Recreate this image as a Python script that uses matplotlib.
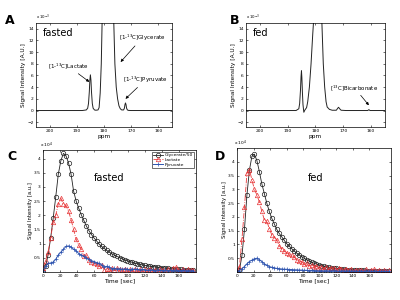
import matplotlib
matplotlib.use('Agg')
import matplotlib.pyplot as plt

# ── Spectra (ppm, signal x1e-3) ─────────────────────────────────
ppm_fasted = [205, 188, 186.5, 186.0, 185.7, 185.4, 185.2, 185.0, 184.8, 184.6,
              184.3, 184.0, 183.5, 183.0, 182.2, 181.8, 181.4, 181.0, 180.7,
              180.4, 180.0, 179.5, 179.0, 178.5, 178.0, 177.5, 177.0, 176.7,
              176.4, 176.0, 175.5, 175.0, 174.5, 174.0, 173.5, 172.8, 172.5,
              172.3, 172.1, 171.9, 171.7, 171.4, 171.0, 170.0, 155]
sig_fasted = [0, 0, 0.1, 0.4, 1.2, 3.2, 5.2, 6.1, 5.2, 3.2,
              1.2, 0.4, 0.1, 0.05, 0.1, 0.5, 3.0, 8.0, 15.0,
              30.0, 50.0, 60.0, 60.0, 58.0, 55.0, 45.0, 30.0, 22.0,
              15.0, 8.0, 4.0, 2.0, 0.8, 0.3, 0.1, 0.1, 0.4,
              1.0, 1.3, 1.0, 0.4, 0.1, 0.02, 0, 0]

ppm_fed = [205, 187, 186.0, 185.7, 185.4, 185.2, 185.05, 184.9, 184.7, 184.5,
           184.2, 183.8, 183.2, 182.8, 182.2, 181.6, 181.0, 180.6, 180.2,
           179.5, 179.0, 178.5, 178.0, 177.7, 177.2, 176.7, 176.2, 175.8,
           175.0, 174.0, 172.5, 172.0, 171.7, 171.3, 170.8, 169.0, 161.2,
           160.8, 160.4, 155]
sig_fed = [0, 0, 0.3, 1.2, 3.5, 5.8, 6.8, 5.6, 3.0, 1.0,
           -0.3, 0.1, 0.5, 1.5, 4.0, 8.0, 13.0, 16.0, 30.0,
           60.0, 60.0, 60.0, 40.0, 15.0, 8.0, 4.0, 1.5, 0.6,
           0.2, 0.05, 0.05, 0.4, 0.55, 0.3, 0.05, 0, 0,
           0.15, 0, 0]

# ── Time courses (signal x1e4) ──────────────────────────────────
t_fasted = [0, 3, 6, 9, 12, 15, 18, 21, 24, 27, 30, 33, 36, 39, 42, 45, 48,
            51, 54, 57, 60, 63, 66, 69, 72, 75, 78, 81, 84, 87, 90, 93, 96,
            99, 102, 105, 108, 111, 114, 117, 120, 123, 126, 129, 132, 135,
            138, 141, 144, 147, 150, 153, 156, 159, 162, 165, 168, 171, 174, 177]
t_fed = t_fasted + [180, 183]

gly_fasted = [0, 0.2, 0.6, 1.2, 1.9, 2.65, 3.45, 3.92, 4.18, 4.1, 3.85, 3.45,
              2.85, 2.5, 2.25, 2.02, 1.82, 1.62, 1.46, 1.32, 1.2, 1.1, 0.98,
              0.9, 0.83, 0.76, 0.7, 0.64, 0.59, 0.55, 0.51, 0.47, 0.43, 0.4,
              0.37, 0.34, 0.31, 0.29, 0.27, 0.25, 0.23, 0.22, 0.2, 0.19, 0.18,
              0.165, 0.155, 0.145, 0.135, 0.125, 0.115, 0.11, 0.1, 0.095,
              0.09, 0.085, 0.08, 0.075, 0.07, 0.065]
lac_fasted = [0.15, 0.4, 0.7, 1.2, 1.75, 2.0, 2.4, 2.6, 2.38, 2.35, 2.15, 1.85,
              1.5, 1.15, 0.95, 0.8, 0.55, 0.6, 0.42, 0.35, 0.3, 0.28, 0.2,
              0.25, 0.08, 0.12, 0.1, 0.15, 0.08, 0.13, 0.1, 0.06, 0.12, 0.08,
              0.1, 0.05, 0.12, 0.07, 0.09, 0.04, 0.1, 0.06, 0.12, 0.05, 0.08,
              0.03, 0.1, 0.06, 0.05, 0.09, 0.04, 0.14, 0.18, 0.08, 0.05, 0.1,
              0.03, 0.09, 0.06, 0.08]
pyr_fasted = [0.05, 0.2, 0.3, 0.32, 0.35, 0.45, 0.6, 0.7, 0.8, 0.9, 0.92, 0.88,
              0.8, 0.75, 0.65, 0.6, 0.55, 0.5, 0.45, 0.4, 0.37, 0.33, 0.3,
              0.25, 0.18, 0.2, 0.16, 0.12, 0.13, 0.1, 0.12, 0.09, 0.11, 0.1,
              0.08, 0.11, 0.09, 0.1, 0.07, 0.09, 0.08, 0.06, 0.08, 0.07, 0.05,
              0.07, 0.06, 0.05, 0.07, 0.04, 0.06, 0.05, 0.07, 0.04, 0.05, 0.06,
              0.04, 0.05, 0.04, 0.05]

gly_fed = [0, 0.08, 0.6, 1.55, 2.8, 3.7, 4.2, 4.28, 4.05, 3.65, 3.2, 2.85,
           2.5, 2.2, 1.95, 1.75, 1.55, 1.4, 1.28, 1.15, 1.03, 0.94, 0.85,
           0.76, 0.69, 0.62, 0.56, 0.5, 0.45, 0.4, 0.36, 0.32, 0.29, 0.26,
           0.23, 0.21, 0.19, 0.17, 0.155, 0.14, 0.13, 0.12, 0.11, 0.1, 0.09,
           0.085, 0.08, 0.075, 0.07, 0.065, 0.06, 0.055, 0.05, 0.05, 0.045,
           0.045, 0.04, 0.04, 0.035, 0.035, 0.03, 0.03]
lac_fed = [0.05, 0.2, 1.2, 2.35, 3.6, 3.72, 3.35, 3.0, 2.8, 2.55, 2.2, 1.9,
           1.85, 1.58, 1.35, 1.25, 1.18, 0.95, 0.85, 0.78, 0.7, 0.65, 0.6,
           0.55, 0.45, 0.4, 0.38, 0.28, 0.32, 0.22, 0.25, 0.2, 0.22, 0.15,
           0.2, 0.12, 0.18, 0.1, 0.15, 0.13, 0.08, 0.14, 0.1, 0.06, 0.12,
           0.08, 0.1, 0.05, 0.09, 0.06, 0.08, 0.04, 0.1, 0.05, 0.07, 0.12,
           0.04, 0.08, 0.05, 0.07, 0.04, 0.06]
pyr_fed = [0.02, 0.05, 0.12, 0.2, 0.3, 0.38, 0.43, 0.48, 0.5, 0.45, 0.38, 0.3,
           0.24, 0.2, 0.17, 0.15, 0.13, 0.12, 0.11, 0.1, 0.1, 0.09, 0.09,
           0.08, 0.08, 0.07, 0.07, 0.06, 0.06, 0.05, 0.06, 0.05, 0.05, 0.04,
           0.05, 0.04, 0.05, 0.04, 0.04, 0.05, 0.04, 0.03, 0.04, 0.04, 0.03,
           0.04, 0.03, 0.04, 0.03, 0.03, 0.04, 0.03, 0.03, 0.04, 0.03, 0.03,
           0.03, 0.02, 0.03, 0.03, 0.02, 0.03]

RED = '#e8383a'
BLUE = '#2f55b0'
TICK_FS = 3.2
LABEL_FS = 4.2


def style_axes(ax):
    ax.tick_params(direction='in', top=True, right=True, labelsize=TICK_FS,
                   length=1.5, width=0.4, pad=1.5)
    for s in ax.spines.values():
        s.set_linewidth(0.5)


def draw_spectrum(ax, ppm, sig, tag):
    ax.plot(ppm, sig, color='#222222', lw=0.7)
    ax.set_xlim(205, 155)
    ax.set_ylim(-2.8, 15)
    ax.set_xticks([200, 190, 180, 170, 160])
    ax.set_yticks([-2, 0, 2, 4, 6, 8, 10, 12, 14])
    ax.set_xlabel('ppm', fontsize=LABEL_FS, labelpad=0.5)
    ax.set_ylabel('Signal Intensity [A.U.]', fontsize=LABEL_FS, labelpad=1)
    ax.text(0.0, 1.01, 'x 10$^{-3}$', transform=ax.transAxes, fontsize=2.8,
            va='bottom', ha='left')
    ax.text(0.05, 0.9, tag, transform=ax.transAxes, fontsize=7, va='center')
    style_axes(ax)


def draw_kinetics(ax, t, gly, lac, pyr, tag, tag_xy, xmax, ymax, legend):
    ax.plot(t, gly, color='#222222', lw=0.6, marker='o', ms=3.2,
            mfc='none', mew=0.5, label='Glycerate/50')
    ax.plot(t, lac, color=RED, lw=0.6, ls='-.', marker='^', ms=3.2,
            mfc='none', mew=0.5, label='Lactate')
    ax.plot(t, pyr, color=BLUE, lw=0.7, marker='+', ms=2.8,
            mew=0.5, label='Pyruvate')
    ax.set_xlim(0, xmax)
    ax.set_ylim(0, ymax)
    ax.set_xticks([0, 20, 40, 60, 80, 100, 120, 140, 160])
    ax.set_yticks([0.5, 1, 1.5, 2, 2.5, 3, 3.5, 4])
    ax.set_yticklabels(['0.5', '1', '1.5', '2', '2.5', '3', '3.5', '4'])
    ax.set_xlabel('Time [sec]', fontsize=LABEL_FS, labelpad=0.5)
    ax.set_ylabel('Signal Intensity [a.u.]', fontsize=LABEL_FS - 0.4, labelpad=1)
    ax.text(-0.02, 1.0, 'x 10$^{4}$', transform=ax.transAxes, fontsize=3.2,
            va='bottom', ha='left')
    ax.text(tag_xy[0], tag_xy[1], tag, fontsize=7)
    if legend:
        leg = ax.legend(loc='upper right', fontsize=3.2, frameon=True,
                        fancybox=False, edgecolor='black', borderpad=0.3,
                        labelspacing=0.15, handlelength=2.2, handletextpad=0.3,
                        borderaxespad=0.4)
        leg.get_frame().set_linewidth(0.5)
    style_axes(ax)


fig = plt.figure(figsize=(4, 3), dpi=100, facecolor='white')

axA = fig.add_axes([0.09, 0.577, 0.34, 0.347])
draw_spectrum(axA, ppm_fasted, sig_fasted, 'fasted')
ann = dict(fontsize=4, arrowprops=dict(arrowstyle='-|>', lw=0.5, color='black',
                                       mutation_scale=4, shrinkA=0, shrinkB=0))
axA.annotate('[1-$^{13}$C]Lactate', xy=(185.4, 4.9), xytext=(193.2, 7.6),
             ha='center', va='center', **ann)
axA.annotate('[1-$^{13}$C]Glycerate', xy=(173.9, 8.3), xytext=(166.0, 12.4),
             ha='center', va='center', **ann)
axA.annotate('[1-$^{13}$C]Pyruvate', xy=(172.1, 2.0), xytext=(164.6, 5.3),
             ha='center', va='center', **ann)

axB = fig.add_axes([0.615, 0.577, 0.3475, 0.347])
draw_spectrum(axB, ppm_fed, sig_fed, 'fed')
axB.annotate('[$^{13}$C]Bicarbonate', xy=(160.8, 0.9), xytext=(166.0, 3.9),
             ha='center', va='center', **ann)

axC = fig.add_axes([0.1075, 0.0933, 0.3825, 0.4067])
draw_kinetics(axC, t_fasted, gly_fasted, lac_fasted, pyr_fasted, 'fasted',
              (60, 3.2), 180, 4.3, True)

axD = fig.add_axes([0.5925, 0.0933, 0.385, 0.413])
draw_kinetics(axD, t_fed, gly_fed, lac_fed, pyr_fed, 'fed',
              (85, 3.3), 186, 4.5, False)

for lab, x, y in [('A', 0.025, 0.93), ('B', 0.587, 0.93),
                  ('C', 0.03, 0.477), ('D', 0.55, 0.48)]:
    fig.text(x, y, lab, fontsize=9, fontweight='bold', va='center', ha='center')

plt.savefig('out.png', dpi=100, facecolor='white')
plt.close()
